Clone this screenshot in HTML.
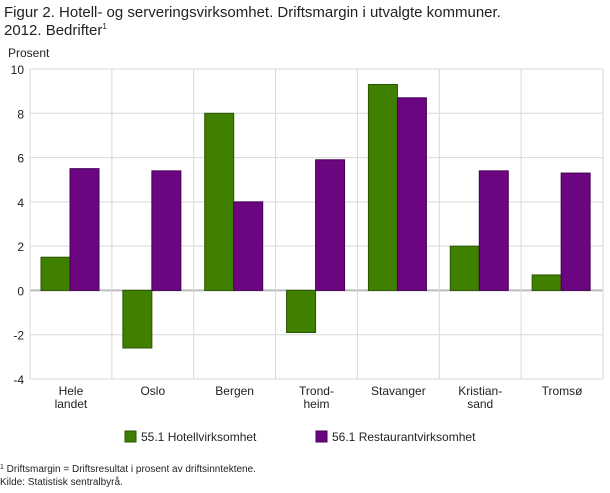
<!DOCTYPE html>
<html><head><meta charset="utf-8">
<style>
body{margin:0;background:#fff;font-family:"Liberation Sans",sans-serif;}
</style></head>
<body>
<svg id="c" width="610" height="488" xmlns="http://www.w3.org/2000/svg" style="font-family:'Liberation Sans',sans-serif">
<text x="4" y="17" font-size="15" fill="#222">Figur 2. Hotell- og serveringsvirksomhet. Driftsmargin i utvalgte kommuner.</text>
<text x="4" y="35" font-size="15" fill="#222">2012. Bedrifter<tspan font-size="8" dy="-6">1</tspan></text>
<text x="8" y="57" font-size="12" fill="#222">Prosent</text>
<g id="grid"></g><g id="bars"></g><g id="axis"></g>
<g>
<rect x="125" y="431" width="11" height="11" fill="#408000" stroke="#2a5500"/>
<text x="141" y="441" font-size="12" fill="#222">55.1 Hotellvirksomhet</text>
<rect x="316" y="431" width="11" height="11" fill="#6b0680" stroke="#450055"/>
<text x="332" y="441" font-size="12" fill="#222">56.1 Restaurantvirksomhet</text>
</g>
<text x="0" y="472" font-size="10" fill="#222"><tspan font-size="7" dy="-3">1</tspan><tspan dy="3"> Driftsmargin = Driftsresultat i prosent av driftsinntektene.</tspan></text>
<text x="0" y="485" font-size="10" fill="#222">Kilde: Statistisk sentralbyrå.</text>
</svg>
<script>
const categories=[["Hele","landet"],["Oslo"],["Bergen"],["Trond-","heim"],["Stavanger"],["Kristian-","sand"],["Tromsø"]];
const hotell=[1.5,-2.6,8,-1.9,9.3,2,0.7];
const restaurant=[5.5,5.4,4,5.9,8.7,5.4,5.3];
const yTicks=[-4,-2,0,2,4,6,8,10];
const L=30,R=603,T=69,B=379,yMin=-4,yMax=10;
const NS="http://www.w3.org/2000/svg";
const y=v=>B-(v-yMin)/(yMax-yMin)*(B-T);
const cw=(R-L)/categories.length;
const x=i=>L+i*cw;
function mk(tag,attrs,parent){const e=document.createElementNS(NS,tag);for(const k in attrs)e.setAttribute(k,attrs[k]);parent.appendChild(e);return e;}
const grid=document.getElementById('grid'),bars=document.getElementById('bars'),axis=document.getElementById('axis');
yTicks.forEach(t=>{
 const l=mk('line',{x1:L,x2:R,y1:y(t),y2:y(t),stroke:t===0?'#bbb':'#d8d8d8','stroke-width':t===0?2:1},grid);
 
 
 const tx=mk('text',{x:L-6,y:y(t)+5,'text-anchor':'end','font-size':12,fill:'#222'},axis);
 tx.textContent=t;
 
 
});
for(let i=0;i<=categories.length;i++){
 const l=mk('line',{x1:x(i),x2:x(i),y1:T,y2:B,stroke:'#d8d8d8','stroke-width':1},grid);
 
 
}
const bw=29,off=11;
categories.forEach((c,i)=>{
 [[hotell,'#408000','#2a5500',0,'bar-hotell'],[restaurant,'#6b0680','#450055',1,'bar-restaurant']].forEach(([arr,f,s,k,n])=>{
  const v=arr[i];
  const r=mk('rect',{x:x(i)+off+k*bw,y:Math.min(y(v),y(0)),width:bw,height:Math.abs(y(v)-y(0)),fill:f,stroke:s,'stroke-width':1},bars);
  
  
 });
 c.forEach((line,j)=>{
  const tx=mk('text',{x:x(i)+cw/2,y:B+16+j*13,'text-anchor':'middle','font-size':12,fill:'#222'},axis);
  tx.textContent=line;
  
  
 });
});
</script>
</body></html>
